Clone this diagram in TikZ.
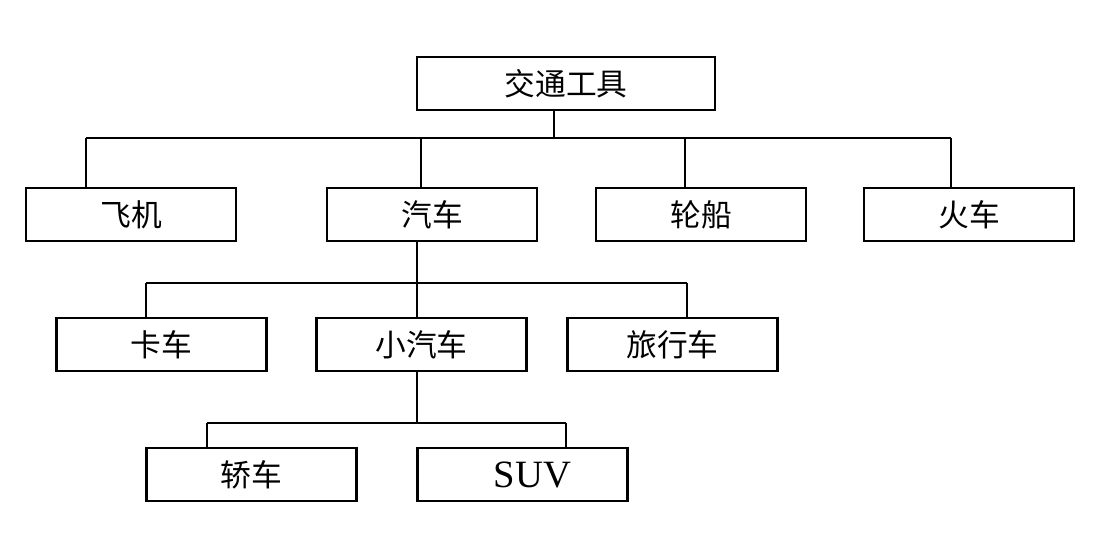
\documentclass[tikz,border=0pt]{standalone}
\usepackage{fontspec}
\newfontfamily\cjk{Noto Sans CJK SC}
\newfontfamily\latin{Liberation Serif}
\usetikzlibrary{positioning}

\begin{document}
\begin{tikzpicture}[
  x=0.02cm, y=-0.02cm,
  box/.style={
    draw, line width=1.2pt, minimum width=4.2cm, minimum height=1.06cm,
    inner sep=0pt, font=\cjk\fontsize{17.5}{19}\selectfont
  },
  link/.style={line width=1.2pt},
]
\useasboundingbox (0,0) rectangle (1109,533);

% ============================ root =====================================
\node[box, minimum width=5.96cm] (root) at (566, 83.5) {交通工具};

% ============================ level 1 ==================================
\node[box] (feiji) at (131, 214.5) {飞机};
\node[box] (qiche) at (432, 214.5) {汽车};
\node[box] (lunchuan) at (701, 214.5) {轮船};
\node[box] (huoche) at (969, 214.5) {火车};

\coordinate (r0) at (554, 138);
\foreach \n/\x in {feiji/86, qiche/421, lunchuan/685, huoche/951}{
  \coordinate (r-\n) at (\x, 138);
  \draw[link] (r-\n) -- (r-\n |- \n.north);
}
\draw[link] (r-feiji) -- (r-huoche);
\draw[link] (root.south -| r0) -- (r0);

% ============================ level 2 ==================================
\node[box] (kache) at (161.5, 344.5) {卡车};
\node[box] (xiaoqiche) at (421.5, 344.5) {小汽车};
\node[box] (lvxingche) at (672.5, 344.5) {旅行车};

\coordinate (q0) at (417, 283);
\foreach \n/\x in {kache/146, xiaoqiche/417, lvxingche/687}{
  \coordinate (q-\n) at (\x, 283);
  \draw[link] (q-\n) -- (q-\n |- \n.north);
}
\draw[link] (q-kache) -- (q-lvxingche);
\draw[link] (qiche.south -| q0) -- (q0);

% ============================ level 3 ==================================
\node[box] (jiaoche) at (251.5, 474.5) {轿车};
\node[box, font=\latin\fontsize{22}{24}\selectfont] (suv) at (522.5, 474.5)
  {\hspace{4mm}SUV};

\coordinate (s0) at (417, 423);
\foreach \n/\x in {jiaoche/207, suv/566}{
  \coordinate (s-\n) at (\x, 423);
  \draw[link] (s-\n) -- (s-\n |- \n.north);
}
\draw[link] (s-jiaoche) -- (s-suv);
\draw[link] (xiaoqiche.south -| s0) -- (s0);

\end{tikzpicture}
\end{document}
